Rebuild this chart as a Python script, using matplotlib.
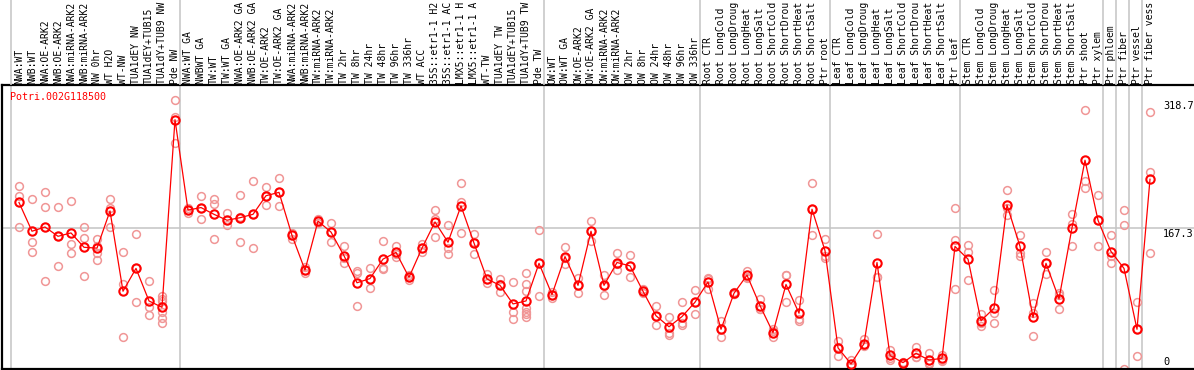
import matplotlib
matplotlib.use('Agg')  # no display, draw straight to a file
import matplotlib.pyplot as plt

# Step 1: sample names, as far as the header shows them
labels = ['NWA:WT', 'NWB:WT', 'NWA:OE-ARK2', 'NWB:OE-ARK2', 'NWA:miRNA-ARK2', 'NWB:miRNA-ARK2',
          'NW 0hr', 'WT H2O', 'WT-NW', 'TUA1dEY NW', 'TUA1dEY+TUB15', 'TUA1dY+TUB9 NW', 'Pde NW',
          'NWA:WT GA', 'NWBWT GA', 'TW:WT', 'TW:WT GA', 'NWA:OE-ARK2 GA', 'NWB:OE-ARK2 GA',
          'TW:OE-ARK2', 'TW:OE-ARK2 GA', 'NWA:miRNA-ARK2', 'NWB:miRNA-ARK2', 'TW:miRNA-ARK2',
          'TW:miRNA-ARK2', 'TW 2hr', 'TW 8hr', 'TW 24hr', 'TW 48hr', 'TW 96hr', 'TW 336hr', 'WT ACC',
          '35S::etr1-1 H2', '35S::etr1-1 AC', 'LMX5::etr1-1 H', 'LMX5::etr1-1 A', 'WT-TW',
          'TUA1dEY TW', 'TUA1dEY+TUB15', 'TUA1dY+TUB9 TW', 'Pde TW',
          'OW:WT', 'OW:WT GA', 'OW:OE-ARK2', 'OW:OE-ARK2 GA', 'OW:miRNA-ARK2', 'OW:miRNA-ARK2',
          'OW 2hr', 'OW 8hr', 'OW 24hr', 'OW 48hr', 'OW 96hr', 'OW 336hr',
          'Root CTR', 'Root LongCold', 'Root LongDroug', 'Root LongHeat', 'Root LongSalt',
          'Root ShortCold', 'Root ShortDrou', 'Root ShortHeat', 'Root ShortSalt', 'Ptr root',
          'Leaf CTR', 'Leaf LongCold', 'Leaf LongDroug', 'Leaf LongHeat', 'Leaf LongSalt',
          'Leaf ShortCold', 'Leaf ShortDrou', 'Leaf ShortHeat', 'Leaf ShortSalt', 'Ptr leaf',
          'Stem CTR', 'Stem LongCold', 'Stem LongDroug', 'Stem LongHeat', 'Stem LongSalt',
          'Stem ShortCold', 'Stem ShortDrou', 'Stem ShortHeat', 'Stem ShortSalt', 'Ptr shoot',
          'Ptr xylem', 'Ptr phloem', 'Ptr fiber', 'Ptr vessel', 'Ptr fiber vess']

# Step 2: mean expression per sample (the red line)
means = [197, 163, 168, 157, 161, 144, 143, 187, 92, 119, 80.5, 73, 295,
         188, 191, 183, 176, 179, 183, 205, 209, 158, 117, 175, 162, 134, 102, 107, 130, 138,
         108.5, 143, 174, 150, 193, 149, 106.5, 99, 77, 80.5, 125,
         88, 133, 99, 163, 99, 126, 122, 92, 63, 50, 62, 79,
         103, 47, 89.6, 111, 75, 43, 100, 66, 189, 140,
         25, 6, 30, 126, 16, 7.5, 18.5, 10.6, 12.6, 145,
         130, 57, 72, 194, 145, 61, 125, 83, 167, 247, 176,
         139, 119, 47, 224.5]

# Step 3: individual replicates (the pale circles)
reps = [[217, 205, 168], [201, 150, 138], [209, 192, 104], [192, 157, 122], [199, 148, 137],
        [168, 155, 110], [154, 146, 137, 129], [201, 190, 168], [139, 100, 38], [160, 119, 79],
        [104, 73, 64], [86, 83, 81, 68, 60, 55], [318.7, 298, 267],
        [191, 188, 185], [205, 191, 178], [201, 195, 154], [184, 176, 170], [206, 180, 150],
        [223, 183, 143], [215, 205, 194], [226, 209, 193], [161, 158, 154], [121, 117, 113],
        [177, 175, 173], [173, 162, 150], [146, 131, 125], [116, 114, 75], [120, 107, 96],
        [152, 120, 118], [146, 136, 132], [111, 109, 105], [148, 143, 138], [188, 177, 156],
        [170, 143, 136], [220, 198, 161], [160, 150, 136], [112, 106, 102], [107, 100, 91],
        [103, 68, 59], [113, 101, 92, 72, 68, 65, 61], [165, 126, 86],
        [91, 88, 84], [144, 131, 124], [108, 99, 90], [175, 163, 152], [111, 98, 88],
        [137, 124, 117], [135, 122, 109], [95, 92, 90], [74.5, 63, 52], [62, 43, 40],
        [79, 55, 52], [93.5, 79, 65],
        [108, 107, 95], [57, 47, 37.5], [91.5, 89, 88.8], [116, 109, 108], [83, 71, 71],
        [47, 45, 38], [111, 111, 79], [82, 59, 57], [220, 189, 159], [153.5, 134, 131],
        [33.5, 26, 15.4], [11, 4, 3], [36, 28, 27], [160, 109, 109], [22.5, 13.4, 11],
        [8.7, 7.5, 6], [26.4, 14.6, 14.6], [18.5, 7, 6], [16.6, 11, 9.8], [190, 152.7, 94.3],
        [147, 139, 105], [65, 54, 51], [93, 66.6, 55], [212, 190, 182], [159, 137, 134],
        [77.7, 66.6, 38.7], [138, 125, 112], [90, 88, 71], [183, 172, 145],
        [306.5, 222.8, 213.8], [205.5, 176, 145],
        [159, 134, 125], [188, 170, 0], [79, 47, 15], [303.7, 233, 137]]

group_starts = [0, 13, 41, 53, 63, 73, 84, 85, 86, 87]  # first sample of each block
tick_values = [318.7, 167.3, 0]
gene = 'Potri.002G118500'

W, H = 1194, 370
mono = 'DejaVu Sans Mono'
fig = plt.figure(figsize=(W / 100, H / 100), dpi=100)
ax = fig.add_axes([2 / W, 1 - 369 / H, 1 - 2 / W, 284 / H])  # plot box
top = fig.add_axes([2 / W, 1 - 85 / H, 1 - 2 / W, 85 / H], sharex=ax)  # header with names

xmin = -17 / 13
ax.set_xlim(xmin, xmin + 1192 / 13)
ax.set_ylim(0, 336)
ax.set_xticks([])
ax.set_yticks([])
ax.spines['right'].set_visible(False)
for s in ['left', 'top', 'bottom']:
    ax.spines[s].set_linewidth(1.6)

# group separators run through the header and the plot
for k in group_starts:
    ax.axvline(k - 0.65, color='#c4c4c4', lw=1.1, zorder=0)
    top.axvline(k - 0.65, color='#c4c4c4', lw=1.1, zorder=0)
ax.axhline(167.3, color='#c4c4c4', lw=1.1, zorder=0)

x = list(range(len(means)))
for i, r in enumerate(reps):
    ax.plot([i] * len(r), r, 'o', mfc='none', mec='#f09696', ms=5.6, mew=1.1, zorder=2)
ax.plot(x, means, '-', color='red', lw=0.9, marker='o', mfc='none', mec='red', ms=6, mew=1.5, zorder=3)

# right-hand value labels
for v in tick_values:
    dy = 7 if v == 0 else -6
    ax.annotate(str(v), (88.0, v), xytext=(0, dy), textcoords='offset pixels',
                ha='left', va='center', family=mono, fontsize=7.4, annotation_clip=False)

# rotated sample names
top.set_ylim(0, 85)
top.axis('off')
for i, lab in enumerate(labels):
    top.text(i, 1.5, lab, rotation=90, ha='center', va='bottom', family=mono, fontsize=7.0)

fig.text(10 / W, 1 - 97 / H, gene, color='red', family=mono, fontsize=7.2, ha='left', va='center')

fig.savefig('out.png', dpi=100)
